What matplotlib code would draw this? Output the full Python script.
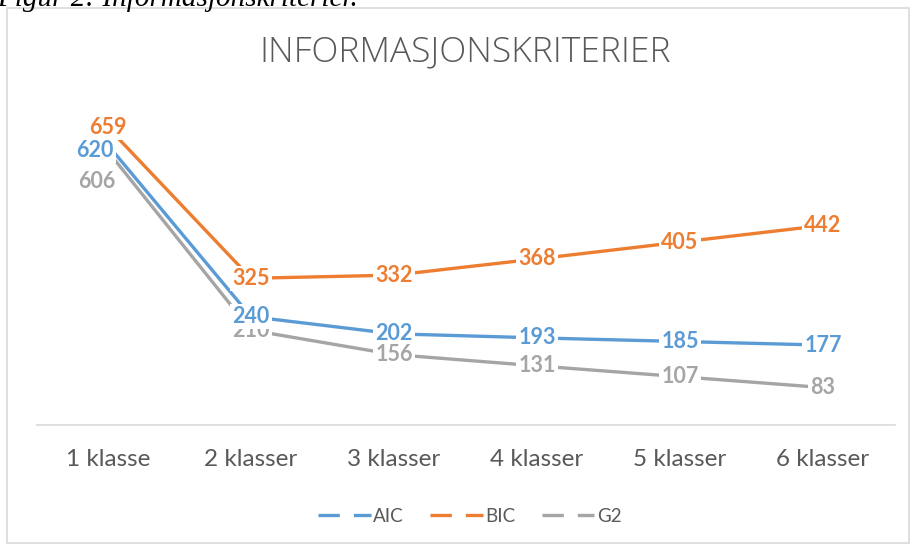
import matplotlib
matplotlib.use("Agg")
import matplotlib.pyplot as plt
from matplotlib.lines import Line2D
from matplotlib.patches import Rectangle

categories = ["1 klasse", "2 klasser", "3 klasser", "4 klasser", "5 klasser", "6 klasser"]
aic = [620, 240, 202, 193, 185, 177]
bic = [659, 325, 332, 368, 405, 442]
g2 = [606, 210, 156, 131, 107, 83]
series_names = ["AIC", "BIC", "G2"]
colors = {"AIC": "#5B9BD5", "BIC": "#ED7D31", "G2": "#A5A5A5"}
title = "INFORMASJONSKRITERIER"
caption = "Figur 2: Informasjonskriterier."

W, H = 917, 545
fig = plt.figure(figsize=(W / 100, H / 100), dpi=100)
plt.rcParams['font.family'] = ['Lato', 'DejaVu Sans']

def fx(px):
    return px / W

def fy(py):
    return 1 - py / H

# chart border
fig.patches.append(Rectangle((fx(7), fy(543)), fx(909) - fx(7), fy(8) - fy(543),
                             transform=fig.transFigure, fill=False,
                             edgecolor="#D9D9D9", linewidth=1.2))
# cut-off caption
fig.text(fx(-3), fy(5.5), caption, fontsize=21, style="italic",
         family="Liberation Serif", va="baseline", ha="left", color="black")

ax = fig.add_axes([fx(36.5), fy(425), fx(894.5) - fx(36.5), fy(109) - fy(425)])
ax.set_xlim(-0.5, 5.5)
ax.set_ylim(0, 700)
for s in ["top", "right", "left"]:
    ax.spines[s].set_visible(False)
ax.spines["bottom"].set_color("#D9D9D9")
ax.spines["bottom"].set_linewidth(1.2)
ax.set_yticks([])
x = list(range(len(categories)))
ax.set_xticks(x)
ax.set_xticklabels(categories, fontsize=17.5, color="#595959")
ax.tick_params(axis="x", length=0, pad=17)

data = {"AIC": aic, "BIC": bic, "G2": g2}
for name in series_names:
    ax.plot(x, data[name], color=colors[name], linewidth=2.4, solid_capstyle="butt", zorder=2)

offsets = {"AIC": {0: (-13, -5)}, "G2": {0: (-11, -30)}, "BIC": {}}
for name in ["G2", "AIC", "BIC"]:
    for i, v in enumerate(data[name]):
        dx, dy = offsets[name].get(i, (0, 0))
        z = 6 if (name == "G2" and i >= 2) else 5
        ax.annotate(str(v), (i, v), xytext=(dx, dy), textcoords="offset pixels",
                    ha="center", va="center", fontsize=15.5, fontweight="bold",
                    color=colors[name], zorder=z,
                    bbox=dict(boxstyle="square,pad=0.1", fc="white", ec="none"))

fig.text(fx(465), fy(52), title, fontsize=25.5, color="#595959", ha="center",
         va="center", family="Open Sans", fontweight="light")

handles = [Line2D([0], [0], color=colors[n], linewidth=2.4, linestyle=(0, (6.4, 4.2)),
                  dash_capstyle="butt") for n in series_names]
leg = fig.legend(handles, series_names, loc="center", bbox_to_anchor=(fx(470), fy(516)),
                 ncol=3, frameon=False, fontsize=13.5, handlelength=2.8,
                 handletextpad=0.15, columnspacing=1.4, labelcolor="#595959")

fig.savefig("out.png", dpi=100)
